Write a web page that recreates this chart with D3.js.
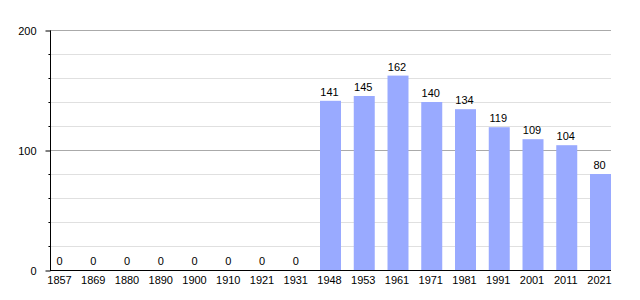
<!DOCTYPE html>
<html>
<head>
<meta charset="utf-8">
<script src="https://cdn.jsdelivr.net/npm/d3@7"></script>
<style>
  body { margin: 0; background: #fff; }
  svg text { font-family: "Liberation Sans", Arial, sans-serif; font-size: 11px; fill: #000; }
</style>
</head>
<body>
<div id="chart"></div>
<script>
let years = ["1857", "1869", "1880", "1890", "1900", "1910", "1921", "1931",
             "1948", "1953", "1961", "1971", "1981", "1991", "2001", "2011", "2021"];
let population = [0, 0, 0, 0, 0, 0, 0, 0, 141, 145, 162, 140, 134, 119, 109, 104, 80];
let majorTicks = [0, 100, 200];
let minorTicks = [20, 40, 60, 80, 120, 140, 160, 180];

let svg = d3.select("#chart").append("svg")
    .attr("width", 640)
    .attr("height", 300);

let x = d3.scaleBand()
    .domain(years)
    .range([50, 611])
    .paddingInner(0.378)
    .paddingOuter(0);

let y = d3.scaleLinear()
    .domain([0, 200])
    .range([270, 30]);

// minor gridlines
svg.selectAll(".minor")
    .data(minorTicks)
    .enter().append("line")
    .attr("x1", 48)
    .attr("x2", 611)
    .attr("y1", d => y(d) + 0.5)
    .attr("y2", d => y(d) + 0.5)
    .style("stroke", "#e0e0e0")
    .style("stroke-width", 1);

// major gridlines
svg.selectAll(".major")
    .data(majorTicks.filter(d => d > 0))
    .enter().append("line")
    .attr("x1", 50)
    .attr("x2", 611)
    .attr("y1", d => y(d) + 0.5)
    .attr("y2", d => y(d) + 0.5)
    .style("stroke", "#aaaaaa")
    .style("stroke-width", 1);

// bars
svg.selectAll(".bar")
    .data(population)
    .enter().append("rect")
    .attr("x", (d, i) => x(years[i]))
    .attr("y", d => y(d))
    .attr("width", x.bandwidth())
    .attr("height", d => y(0) - y(d))
    .style("fill", "#99aaff");

// value labels
svg.selectAll(".val")
    .data(population)
    .enter().append("text")
    .attr("x", (d, i) => x(years[i]) + x.bandwidth() / 2 - 1)
    .attr("y", d => y(d) - 5)
    .attr("text-anchor", "middle")
    .text(d => d);

// y axis
let yAxis = svg.append("g")
    .attr("transform", "translate(50.5,0.5)")
    .call(d3.axisLeft(y).tickValues(majorTicks).tickSize(5).tickPadding(9));
yAxis.select(".domain").attr("stroke", "#000").attr("d", "M0," + (y(200)) + "V" + y(0));
yAxis.selectAll("line").attr("stroke", "#000");
yAxis.selectAll("text").style("font-size", "11px");
yAxis.attr("font-family", null).attr("font-size", null);

svg.append("g")
    .attr("transform", "translate(50.5,0.5)")
    .selectAll("line")
    .data(minorTicks)
    .enter().append("line")
    .attr("x1", -2).attr("x2", 0)
    .attr("y1", d => y(d)).attr("y2", d => y(d))
    .style("stroke", "#000");

// x axis
let xAxis = svg.append("g")
    .attr("transform", "translate(0,270.5)")
    .call(d3.axisBottom(x).tickSize(0).tickPadding(6));
xAxis.select(".domain").attr("stroke", "#000").attr("d", "M50,0H611");
xAxis.selectAll(".tick").attr("transform", d => "translate(" + (x(d) + x.bandwidth() / 2 - 1) + ",0)");
xAxis.attr("font-family", null).attr("font-size", null);
</script>
</body>
</html>
